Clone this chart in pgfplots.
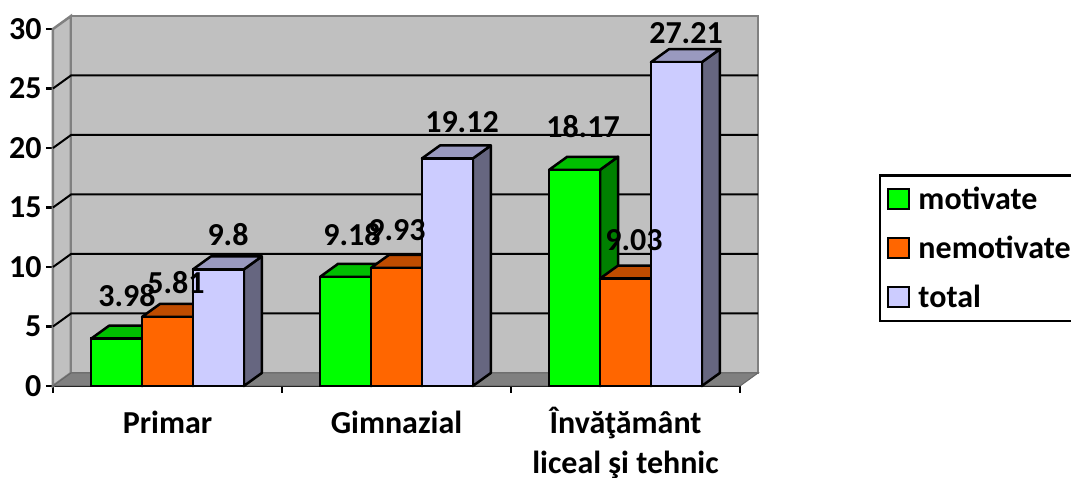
\documentclass[border=0pt]{standalone}
\usepackage{fontspec}
\setmainfont{Carlito}
\usepackage{pgfplots}
\usepackage{pgfplotstable}
\pgfplotsset{compat=1.18}

\definecolor{wall}{HTML}{C0C0C0}
\definecolor{wallline}{HTML}{808080}
\definecolor{floorc}{HTML}{808080}
\definecolor{gfront}{HTML}{00FF00}
\definecolor{gtop}{HTML}{00BF00}
\definecolor{gside}{HTML}{008000}
\definecolor{ofront}{HTML}{FF6600}
\definecolor{otop}{HTML}{BF4C00}
\definecolor{oside}{HTML}{803300}
\definecolor{lfront}{HTML}{CCCCFF}
\definecolor{ltop}{HTML}{9999BF}
\definecolor{lside}{HTML}{666680}

\pgfplotstableread{
x y
0.5 3.98
1.5 9.18
2.5 18.17
}\motivate
\pgfplotstableread{
x y
0.5 5.81
1.5 9.93
2.5 9.03
}\nemotivate
\pgfplotstableread{
x y
0.5 9.8
1.5 19.12
2.5 27.21
}\total

% label positions
\pgfplotstableread{
x y label
0.3231 7.56 3.98
0.5371 8.65 5.81
0.7642 12.69 9.8
1.3057 12.69 9.18
1.5022 13.11 9.93
1.7860 22.18 19.12
2.3144 21.76 18.17
2.5371 12.27 9.03
2.7642 29.66 27.21
}\labels

% depth of the 3d look, in axis units
\def\dx{0.0786}
\def\dy{1.0924}
\def\bw{0.2222}

% side and top of a bar: left edge, value, side colour, top colour
\newcommand{\barfaces}[4]{%
  \pgfmathsetmacro\xl{#1}%
  \pgfmathsetmacro\xr{#1+\bw}%
  \pgfmathsetmacro\xlb{#1+\dx}%
  \pgfmathsetmacro\xrb{#1+\bw+\dx}%
  \pgfmathsetmacro\vb{#2+\dy}%
  \addplot[forget plot, draw=black, line width=2.5pt, line join=round, fill=#3] coordinates
    {(\xr,0) (\xrb,\dy) (\xrb,\vb) (\xr,#2)} -- cycle;
  \addplot[forget plot, draw=black, line width=2.5pt, line join=round, fill=#4] coordinates
    {(\xl,#2) (\xr,#2) (\xrb,\vb) (\xlb,\vb)} -- cycle;
}
\newcommand{\gridl}[1]{%
  \pgfmathsetmacro\vb{#1+\dy}%
  \addplot[forget plot, black, line width=2pt] coordinates
    {(0,#1) (\dx,\vb) (3.0786,\vb)};
}

\pgfplotsset{
  swatch/.style={
    legend image code/.code={
      \draw[##1, line width=2pt] (0pt,-10pt) rectangle (21pt,10pt);
      \path (27pt,0pt);
    }
  },
}

\begin{document}
\begin{tikzpicture}
\useasboundingbox (-53pt,-92pt) rectangle (1018pt,386pt);
\begin{axis}[
  at={(0pt,0pt)}, anchor=origin,
  scale only axis, width=687pt, height=357pt,
  clip=false,
  xmin=0, xmax=3, ymin=0, ymax=30,
  axis x line=bottom, axis y line=left,
  axis line style={-, black, line width=2.5pt},
  tick style={black, line width=2.5pt},
  tick align=outside,
  major tick length=7pt, minor tick length=7pt,
  ytick={0,5,10,15,20,25,30},
  xtick={0.5,1.5,2.5},
  minor xtick={0,1,2,3},
  major x tick style={draw=none},
  xticklabels={Primar, Gimnazial,
    {\begin{tabular}[t]{@{}c@{}}Învăţământ\\liceal şi tehnic\end{tabular}}},
  tick label style={font=\fontsize{32}{32}\selectfont\bfseries},
  xticklabel style={font=\fontsize{32}{40}\selectfont\bfseries,
    anchor=base, yshift=-41pt},
  yticklabel style={xshift=-1pt},
  /pgf/number format/assume math mode=true,
  legend cell align=left,
  legend style={
    at={(1.2023,0.5938)}, anchor=north west,
    draw=black, line width=2.5pt,
    font=\fontsize{32}{32}\selectfont\bfseries,
    inner xsep=7pt, inner ysep=10pt,
    row sep=21pt,
  },
]
% walls and floor
\addplot[forget plot, draw=wallline, line width=2.5pt, fill=wall] coordinates
  {(0,0) (\dx,\dy) (\dx,31.0924) (0,30)} -- cycle;
\addplot[forget plot, draw=wallline, line width=2.5pt, fill=wall] coordinates
  {(\dx,\dy) (3.0786,\dy) (3.0786,31.0924) (\dx,31.0924)} -- cycle;
\addplot[forget plot, draw=black!60, line width=1pt, fill=floorc] coordinates
  {(0,0) (3,0) (3.0786,\dy) (\dx,\dy)} -- cycle;
\gridl{5}\gridl{10}\gridl{15}\gridl{20}\gridl{25}

% motivate
\barfaces{0.1667}{3.98}{gside}{gtop}
\barfaces{1.1667}{9.18}{gside}{gtop}
\barfaces{2.1667}{18.17}{gside}{gtop}
\addplot[ybar, bar width=0.2222, bar shift=-0.2222, draw=black, line width=2.5pt,
  fill=gfront, swatch] table {\motivate};
\addlegendentry{motivate}

% nemotivate
\barfaces{0.3889}{5.81}{oside}{otop}
\barfaces{1.3889}{9.93}{oside}{otop}
\barfaces{2.3889}{9.03}{oside}{otop}
\addplot[ybar, bar width=0.2222, bar shift=0, draw=black, line width=2.5pt,
  fill=ofront, swatch] table {\nemotivate};
\addlegendentry{nemotivate}

% total
\barfaces{0.6111}{9.8}{lside}{ltop}
\barfaces{1.6111}{19.12}{lside}{ltop}
\barfaces{2.6111}{27.21}{lside}{ltop}
\addplot[ybar, bar width=0.2222, bar shift=0.2222, draw=black, line width=2.5pt,
  fill=lfront, swatch] table {\total};
\addlegendentry{total}

% data labels
\addplot[forget plot, only marks, mark=none, nodes near coords,
  point meta=explicit symbolic,
  every node near coord/.append style={anchor=center, inner sep=0pt,
    font=\fontsize{32}{32}\selectfont\bfseries}]
  table[meta=label] {\labels};
\end{axis}
\end{tikzpicture}
\end{document}
